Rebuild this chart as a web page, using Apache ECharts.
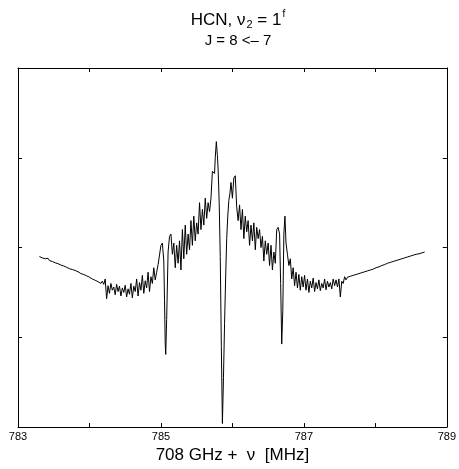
<!DOCTYPE html>
<html><head><meta charset="utf-8">
<script src="https://cdn.jsdelivr.net/npm/echarts@6/dist/echarts.min.js"></script>
<style>html,body{margin:0;padding:0;background:#fff}#c{width:459px;height:469px}</style>
</head><body><div id="c"></div>
<script>
// frequency offset [MHz] (708 GHz + nu), intensity [arb. units]
const wingLow = [
[783.30,3.80],[783.32,3.79],[783.34,3.77],[783.36,3.78],[783.38,3.75],[783.40,3.74],[783.42,3.76],[783.44,3.71],
[783.46,3.72],[783.48,3.69],[783.50,3.70],[783.52,3.66],[783.54,3.67],[783.56,3.64],[783.58,3.65],[783.60,3.61],
[783.62,3.62],[783.64,3.59],[783.66,3.60],[783.68,3.56],[783.70,3.57],[783.72,3.53],[783.74,3.55],[783.76,3.51],
[783.78,3.52],[783.80,3.49],[783.82,3.50],[783.84,3.46],[783.86,3.47],[783.88,3.42],[783.90,3.45],[783.92,3.40],
[783.94,3.42],[783.96,3.37],[783.98,3.39],[784.00,3.34],[784.02,3.36],[784.04,3.30],[784.06,3.33],[784.08,3.27],
[784.10,3.31],[784.12,3.24],[784.14,3.28],[784.16,3.20],[784.18,3.25],[784.20,3.18]
];
const noiseLow = [
[784.22,3.30],[784.24,2.86],[784.26,3.15],[784.28,2.98],[784.30,3.20],[784.32,3.05],[784.34,3.12],[784.36,2.95],
[784.38,3.18],[784.40,3.02],[784.42,3.14],[784.44,2.92],[784.46,3.10],[784.48,3.00],[784.50,3.16],[784.52,2.90],
[784.54,3.08],[784.56,2.96],[784.58,3.20],[784.60,2.88],[784.62,3.14],[784.64,3.02],[784.66,3.30],[784.68,2.92],
[784.70,3.22],[784.72,3.05],[784.74,3.38],[784.76,2.98],[784.78,3.26],[784.80,3.10],[784.82,3.45],[784.84,3.02],
[784.86,3.35],[784.88,3.20],[784.90,3.55],[784.92,3.28],[784.94,3.45],[784.96,3.62],[784.98,3.58]
];
const dipLow = [
[785.00,4.05],[785.02,4.10],[785.04,3.70],[785.05,2.85],[785.06,1.85],[785.067,1.62],[785.08,2.40],[785.10,3.90],
[785.12,4.25]
];
const riseCore = [
[785.14,4.30],[785.16,3.85],[785.18,4.10],[785.20,3.55],[785.22,4.05],[785.24,3.65],[785.26,4.15],[785.28,3.50],
[785.30,4.40],[785.32,3.75],[785.34,4.50],[785.36,3.85],[785.38,4.30],[785.40,3.95],[785.42,4.60],[785.44,4.05],
[785.46,4.70],[785.48,4.15],[785.50,4.55],[785.52,4.30],[785.54,5.00],[785.56,4.40],[785.58,4.85],[785.60,4.50],
[785.62,5.10],[785.64,4.65],[785.66,5.00],[785.68,4.80],[785.70,5.10]
];
const centralDip = [
[785.72,5.70],[785.74,5.72],[785.75,5.65],[785.76,6.00],[785.775,6.36],[785.79,6.05],[785.80,5.75],[785.815,5.00],
[785.83,3.80],[785.845,1.80],[785.86,0.08],[785.875,1.10],[785.89,2.30],[785.905,3.30],[785.92,4.20],[785.935,4.70],
[785.95,5.05],[785.965,5.20],[785.98,5.45],[786.00,5.10],[786.02,5.55],[786.04,5.60],[786.06,4.90],[786.08,4.60]
];
const fallCore = [
[786.10,4.95],[786.12,4.40],[786.14,4.85],[786.16,4.20],[786.18,4.70],[786.20,4.35],[786.22,4.60],[786.24,4.05],
[786.26,4.50],[786.28,4.15],[786.30,4.55],[786.32,3.95],[786.34,4.45],[786.36,4.20],[786.38,4.40],[786.40,4.00],
[786.42,4.25],[786.44,3.70],[786.46,4.15],[786.48,3.85],[786.50,4.10],[786.52,3.60],[786.54,4.05],[786.56,3.50],
[786.58,3.90],[786.60,3.65],[786.62,4.40],[786.64,4.45],[786.66,4.30]
];
const dipHigh = [
[786.675,3.20],[786.69,1.85],[786.705,2.60],[786.72,4.30],[786.735,4.70],[786.75,4.10]
];
const noiseHigh = [
[786.77,3.85],[786.79,3.60],[786.81,3.75],[786.83,3.30],[786.85,3.55],[786.87,3.15],[786.89,3.45],[786.91,3.10],
[786.93,3.40],[786.95,3.05],[786.97,3.35],[786.99,3.12],[787.01,3.38],[787.03,3.05],[787.05,3.30],[787.07,3.00],
[787.09,3.25],[787.11,3.10],[787.13,3.32],[787.15,3.02],[787.17,3.22],[787.19,3.08],[787.21,3.28],[787.23,3.04],
[787.25,3.20],[787.27,3.10],[787.29,3.30],[787.31,3.06],[787.33,3.25],[787.35,3.12],[787.37,3.22],[787.39,3.08],
[787.41,3.30],[787.43,3.15],[787.45,3.28],[787.47,3.12],[787.49,3.30],[787.51,2.90],[787.53,3.25],[787.55,3.20],
[787.57,3.35]
];
const wingHigh = [
[787.59,3.28],[787.61,3.34],[787.63,3.30],[787.65,3.36],[787.67,3.33],[787.69,3.38],[787.71,3.35],[787.73,3.40],
[787.75,3.38],[787.77,3.42],[787.79,3.40],[787.81,3.44],[787.83,3.42],[787.85,3.46],[787.87,3.45],[787.89,3.48],
[787.91,3.47],[787.93,3.50],[787.95,3.49],[787.97,3.52],[787.99,3.51],[788.01,3.55],[788.03,3.54],[788.05,3.57],
[788.07,3.56],[788.09,3.60],[788.11,3.59],[788.13,3.62],[788.15,3.61],[788.17,3.65],[788.19,3.64],[788.21,3.67],
[788.23,3.66],[788.25,3.69],[788.27,3.68],[788.29,3.71],[788.31,3.70],[788.33,3.73],[788.35,3.72],[788.37,3.75],
[788.39,3.74],[788.41,3.77],[788.43,3.76],[788.45,3.79],[788.47,3.78],[788.49,3.81],[788.51,3.80],[788.53,3.83],
[788.55,3.82],[788.57,3.85],[788.59,3.84],[788.61,3.86],[788.63,3.85],[788.65,3.88],[788.67,3.87],[788.69,3.90]
];
const xLabelValues = [783, 785, 787, 789];
const titleLine1 = 'HCN, ν{sub|2} = 1{sup|f}';
const titleLine2 = 'J = 8 <– 7';
const xAxisName = '708 GHz +  ν  [MHz]';

const spectrum = [].concat(wingLow, noiseLow, dipLow, riseCore, centralDip, fallCore, dipHigh, noiseHigh, wingHigh);
const FONT = '"Liberation Sans", Arial, sans-serif';

const chart = echarts.init(document.getElementById('c'), null, {renderer: 'canvas'});
const axisCommon = {
  type: 'value', min: 783, max: 789, interval: 1,
  axisLine: {show: true, onZero: false, lineStyle: {color: '#000', width: 1}},
  axisTick: {show: true, inside: true, length: 4, lineStyle: {color: '#000'}},
  splitLine: {show: false}
};
const yCommon = {
  type: 'value', min: 0, max: 8, interval: 2,
  axisLine: {show: true, onZero: false, lineStyle: {color: '#000', width: 1}},
  axisTick: {show: true, inside: true, length: 4, lineStyle: {color: '#000'}},
  axisLabel: {show: false},
  splitLine: {show: false}
};
chart.setOption({
  animation: false,
  backgroundColor: '#fff',
  grid: {left: 18, right: 9, top: 68, bottom: 41, containLabel: false},
  xAxis: [
    Object.assign({}, axisCommon, {
      position: 'bottom',
      name: xAxisName, nameLocation: 'middle', nameGap: 14,
      nameTextStyle: {fontFamily: FONT, fontSize: 17, color: '#000', verticalAlign: 'top'},
      axisLabel: {show: true, margin: 4, fontFamily: FONT, fontSize: 11, color: '#000',
        formatter: v => xLabelValues.indexOf(Math.round(v)) >= 0 ? String(Math.round(v)) : ''}
    }),
    Object.assign({}, axisCommon, {position: 'top', axisLabel: {show: false}})
  ],
  yAxis: [
    Object.assign({}, yCommon, {position: 'left'}),
    Object.assign({}, yCommon, {position: 'right'})
  ],
  graphic: [
    {type: 'text', x: 238, y: 20, style: {
      text: titleLine1, fill: '#000', fontFamily: FONT, fontSize: 17,
      align: 'center', verticalAlign: 'middle',
      rich: {
        sub: {fontFamily: FONT, fontSize: 11, fill: '#000', padding: [9, 0, 0, 1]},
        sup: {fontFamily: FONT, fontSize: 10, fill: '#000', padding: [0, 0, 12, 1]}
      }
    }},
    {type: 'text', x: 238, y: 41, style: {
      text: titleLine2, fill: '#000', fontFamily: FONT, fontSize: 15,
      align: 'center', verticalAlign: 'middle'
    }}
  ],
  series: [{
    type: 'line', data: spectrum, xAxisIndex: 0, yAxisIndex: 0,
    showSymbol: false, symbol: 'none',
    lineStyle: {color: '#000', width: 1},
    silent: true
  }]
});
</script>
</body></html>
